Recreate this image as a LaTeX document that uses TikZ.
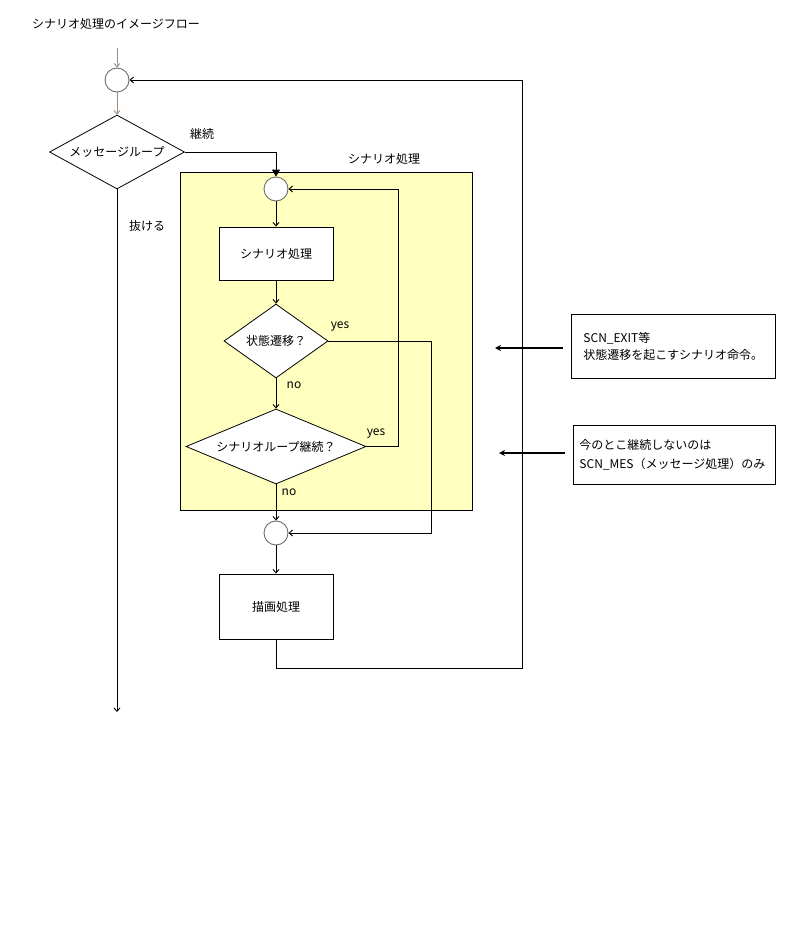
\documentclass[tikz,border=0pt]{standalone}
\usepackage{fontspec}
\setmainfont{Noto Sans CJK JP}
\usetikzlibrary{arrows.meta,shapes.geometric}
\definecolor{areay}{RGB}{255,255,192}
\definecolor{circg}{RGB}{110,110,110}
\definecolor{brn}{RGB}{160,140,125}
\begin{document}
\begin{tikzpicture}[x=1pt,y=-1pt,
  every node/.style={font=\fontsize{12}{17}\selectfont},
  circ/.style={circle,draw=circg,fill=white,minimum size=24pt,inner sep=0pt,line width=0.9pt},
  dia/.style={diamond,draw,fill=white,inner sep=0pt,line width=0.8pt},
  pbox/.style={rectangle,draw,fill=white,minimum width=114pt,inner sep=0pt,line width=0.9pt},
  note/.style={rectangle,draw,fill=white,align=left,anchor=west,line width=0.9pt},
  lbl/.style={inner sep=0pt},
  arr/.style={-{Straight Barb[length=3.5pt,width=6pt]},line width=0.9pt},
  bigarr/.style={-{Stealth[length=6pt,width=6pt]},line width=2pt}]
\useasboundingbox (0,0) rectangle (794,945);
\node[lbl,anchor=west] (title) at (32,24) {シナリオ処理のイメージフロー};
% yellow area
\node[draw,fill=areay,minimum width=292pt,minimum height=338pt,anchor=north west,inner sep=0pt,line width=0.9pt] (area) at (180,172) {};
\node[lbl] (areal) at (384,159) {シナリオ処理};
% nodes
\node[circ] (c1) at (117,80) {};
\node[dia,minimum width=135pt,minimum height=74pt,shape aspect=1.8] (d0) at (117,152) {メッセージループ};
\node[circ] (c2) at (276,189) {};
\node[pbox,minimum height=53pt] (b1) at (276,253.5) {シナリオ処理};
\node[dia,minimum width=104pt,minimum height=74pt,shape aspect=1.4] (d1) at (276,341) {状態遷移？};
\node[dia,minimum width=180pt,minimum height=75pt,shape aspect=2.4] (d2) at (276,446.5) {シナリオループ継続？};
\node[circ] (c3) at (276,533) {};
\node[pbox,minimum height=65pt] (b2) at (276,606.5) {描画処理};
\node[note,minimum width=204pt,minimum height=64pt,text width=180pt,inner xsep=12pt] (n1) at (571,346) {SCN\_EXIT等\\状態遷移を起こすシナリオ命令。};
\node[note,minimum width=202pt,minimum height=59pt,text width=190pt,inner xsep=6pt,font=\fontsize{12}{19}\selectfont] (n2) at (573,454.5) {今のとこ継続しないのは\\SCN\_MES（メッセージ処理）のみ};
% labels
\node[lbl] (lk) at (202,134) {継続};
\node[lbl] (lx) at (147,226) {抜ける};
\node[lbl] (ly1) at (340,327) {yes};
\node[lbl] (ln1) at (294,385) {no};
\node[lbl] (ly2) at (376,434) {yes};
\node[lbl] (ln2) at (289,492) {no};
% coordinates
\coordinate (st) at (117,48);
\coordinate (ex) at (117,712);
\coordinate (y1c) at (431,341);
\coordinate (y2c) at (398,446.5);
\coordinate (bc) at (276,668);
\coordinate (rc) at (522,668);
\coordinate (a1s) at (563,348);
\coordinate (a1e) at (495,348);
\coordinate (a2s) at (565,453);
\coordinate (a2e) at (499,453);
% connectors
\draw[arr,draw=brn] (st) -- (c1);
\draw[arr,draw=brn] (c1) -- (d0.north);
\draw[line width=0.9pt,-{Triangle[length=7pt,width=8pt]}] (d0.east) -| (c2.north);
\draw[arr] (d0.south) -- (ex);
\draw[arr] (c2) -- (b1);
\draw[arr] (b1) -- (d1.north);
\draw[arr] (d1.south) -- (d2.north);
\draw[arr] (d1.east) -- (y1c) |- (c3.east);
\draw[arr] (d2.east) -- (y2c) |- (c2.east);
\draw[arr] (d2.south) -- (c3.north);
\draw[arr] (c3) -- (b2.north);
\draw[arr] (b2.south) -- (bc) -- (rc) |- (c1.east);
\draw[bigarr] (a1s) -- (a1e);
\draw[bigarr] (a2s) -- (a2e);
\end{tikzpicture}
\end{document}
